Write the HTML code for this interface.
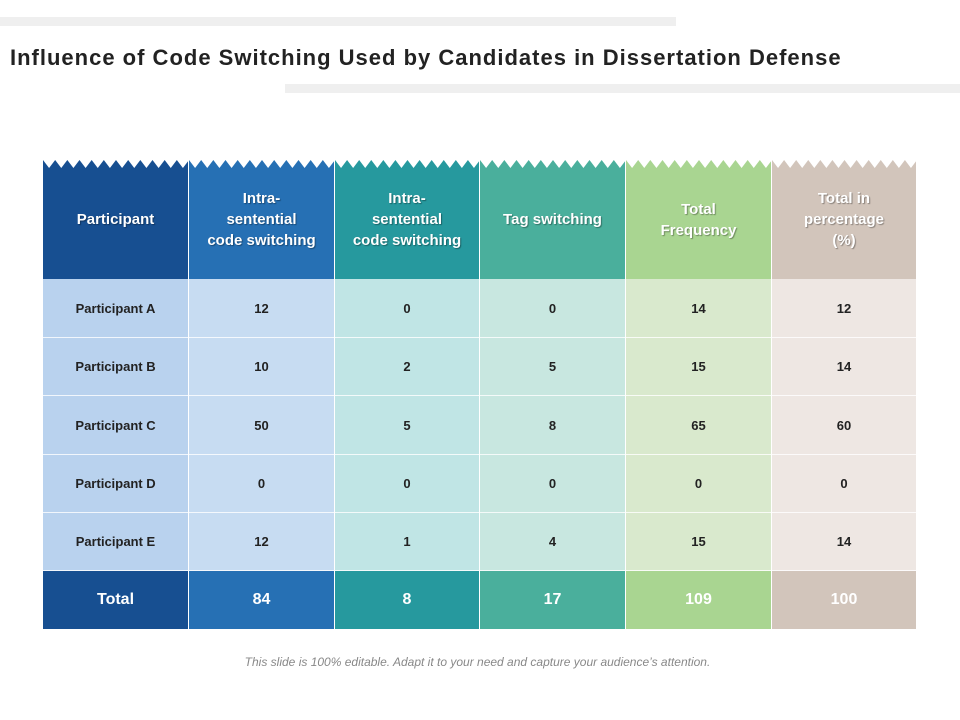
<!DOCTYPE html>
<html><head><meta charset="utf-8"><style>
body{margin:0;width:960px;height:720px;background:#fff;position:relative;overflow:hidden;font-family:"Liberation Sans",sans-serif}
.bar{position:absolute;background:#efefef}
.c{position:absolute;display:flex;align-items:center;justify-content:center;text-align:center;box-sizing:border-box;font-weight:bold}
.h{color:#fff;font-size:15px;line-height:21px;text-shadow:1px 1px 1px rgba(0,0,0,.35)}
.b{color:#222;font-size:13px;border-bottom:1px solid rgba(255,255,255,.8)}
.t{color:#fff;font-size:16px}
</style></head><body>
<div class="bar" style="left:0;top:17px;width:676px;height:9px"></div>
<div class="bar" style="left:285px;top:84px;width:675px;height:9px"></div>
<div style="position:absolute;left:10px;top:45px;font-size:22px;letter-spacing:1px;font-weight:bold;color:#222">Influence of Code Switching Used by Candidates in Dissertation Defense</div>
<div id="tbl"></div>
<svg id="zig" style="position:absolute;left:0;top:0" width="960" height="180"></svg>
<div style="position:absolute;left:0;width:955px;top:655px;text-align:center;font-size:12px;font-style:italic;color:#888">This slide is 100% editable. Adapt it to your need and capture your audience’s attention.</div>
<script>
const headers=["Participant","Intra-<br>sentential<br>code switching","Intra-<br>sentential<br>code switching","Tag switching","Total<br>Frequency","Total in<br>percentage<br>(%)"];
const participants=["Participant A","Participant B","Participant C","Participant D","Participant E"];
const intra1=[12,10,50,0,12];
const intra2=[0,2,5,0,1];
const tag=[0,5,8,0,4];
const freq=[14,15,65,0,15];
const pct=[12,14,60,0,14];
const totals=["Total",84,8,17,109,100];
const hdrCol=["#174f91","#2670b4","#26999e","#4aaf9c","#a9d591","#d2c5bb"];
const bodyCol=["#b9d2ee","#c7dcf2","#c0e5e5","#c8e7e0","#d9e9cd","#eee7e3"];
const xs=[43,189,335,480,626,772,917];
const tbl=document.getElementById('tbl');
function cell(cls,x0,x1,y0,y1,bg,html,name){
 const d=document.createElement('div');
 d.className='c '+cls;
 d.style.cssText=`left:${x0}px;top:${y0}px;width:${x1-x0-1}px;height:${y1-y0}px;background:${bg}`;
 d.innerHTML=html;
 
 
 tbl.appendChild(d);
}
for(let c=0;c<6;c++) cell('h',xs[c],xs[c+1],160,279,hdrCol[c],headers[c],'header-cell');
const cols=[participants,intra1,intra2,tag,freq,pct];
const rowY=[279,338,396,455,513,571];
for(let r=0;r<5;r++)for(let c=0;c<6;c++)cell('b',xs[c],xs[c+1],rowY[r],rowY[r+1],bodyCol[c],cols[c][r],'body-cell');
for(let c=0;c<6;c++)cell('t',xs[c],xs[c+1],571,629,hdrCol[c],totals[c],'total-cell');
const svg=document.getElementById('zig');
let pts=`${xs[0]},159 `;
for(let c=0;c<6;c++){const n=12,w=(xs[c+1]-xs[c])/n;
 for(let i=0;i<n;i++){const x=xs[c]+i*w;pts+=`${x},160 ${x+w/2},168 `;}
}
pts+=`${xs[6]},160 ${xs[6]},159`;
const p=document.createElementNS('http://www.w3.org/2000/svg','polygon');
p.setAttribute('points',pts);p.setAttribute('fill','#fff');


svg.appendChild(p);
</script>
</body></html>
